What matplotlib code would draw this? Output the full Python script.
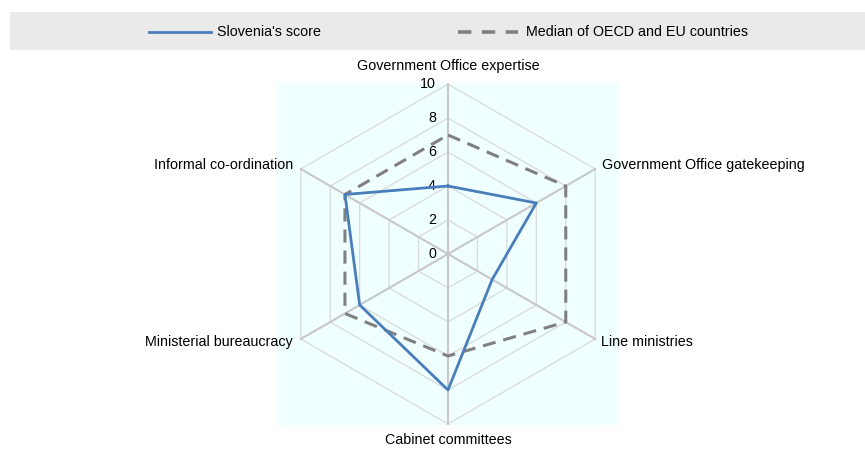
import numpy as np
import matplotlib
matplotlib.use("Agg")
import matplotlib.pyplot as plt
from matplotlib.patches import Rectangle
from matplotlib.lines import Line2D

categories = ["Government Office expertise", "Government Office gatekeeping",
              "Line ministries", "Cabinet committees",
              "Ministerial bureaucracy", "Informal co-ordination"]
slovenia = [4, 6, 3, 8, 6, 7]
median = [7, 8, 8, 6, 7, 7]
ring_values = [0, 2, 4, 6, 8, 10]
ring_labels = ["0", "2", "4", "6", "8", "10"]
series_names = ["Slovenia's score", "Median of OECD and EU countries"]

plt.rcParams['font.family'] = ['Liberation Sans', 'DejaVu Sans']
FS = 10.3

W, H = 865, 450
fig = plt.figure(figsize=(W / 100, H / 100), dpi=100)

# legend band
fig.patches.append(Rectangle((10 / W, 1 - 50 / H), 1 - 10 / W, 38 / H,
                             transform=fig.transFigure, facecolor="#eaeaea",
                             edgecolor="none", zorder=0))

BLUE = "#4a7ebb"
GREY = "#808080"
DASH = (0, (4.3, 2.6))

ax = fig.add_axes([277 / W, 25 / H, 342 / W, 342 / H])
ax.set_facecolor("#f0ffff")
lim = 10.06
ax.set_xlim(-lim, lim)
ax.set_ylim(-lim, lim)
ax.set_aspect("equal")
for s in ax.spines.values():
    s.set_visible(False)
ax.set_xticks([])
ax.set_yticks([])

n = len(categories)
ang = np.deg2rad(90 - 60 * np.arange(n))
ca, sa = np.cos(ang), np.sin(ang)

def closed(vals):
    v = np.asarray(vals, dtype=float)
    x, y = v * ca, v * sa
    return np.append(x, x[0]), np.append(y, y[0])

# rings
for rv in ring_values[1:]:
    x, y = closed([rv] * n)
    ax.plot(x, y, color="#d9d9d9", lw=0.9, zorder=1)
# spokes
top = ring_values[-1]
for i in range(n):
    ax.plot([0, top * ca[i]], [0, top * sa[i]], color="#c8c8c8", lw=1.5, zorder=1.5)

# series
x, y = closed(median)
ax.plot(x, y, color=GREY, lw=2.2, linestyle=DASH, zorder=3)
x, y = closed(slovenia)
ax.plot(x, y, color=BLUE, lw=2.0, zorder=4)

# radial tick labels
for rv, lab in zip(ring_values, ring_labels):
    ax.annotate(lab, xy=(0, rv), xytext=(-12, 0), textcoords="offset pixels",
                ha="right", va="center", fontsize=FS, annotation_clip=False)

# category labels
offsets = [((0, 18), "center"), ((7, 4), "left"), ((6, -3), "left"),
           ((0, -16), "center"), ((-8, -3), "right"), ((-8, 4), "right")]
for i, cat in enumerate(categories):
    (dx, dy), ha = offsets[i]
    ax.annotate(cat, xy=(top * ca[i], top * sa[i]), xytext=(dx, dy),
                textcoords="offset pixels", ha=ha, va="center", fontsize=FS,
                annotation_clip=False)

# legend
ly = 1 - 31.5 / H
fig.lines.append(Line2D([149 / W, 211 / W], [ly, ly], transform=fig.transFigure,
                        color=BLUE, lw=2.0))
fig.text(217 / W, ly, series_names[0], ha="left", va="center", fontsize=FS)
fig.lines.append(Line2D([458 / W, 518 / W], [ly, ly], transform=fig.transFigure,
                        color=GREY, lw=2.6, linestyle=(0, (3.7, 2.9))))
fig.text(526 / W, ly, series_names[1], ha="left", va="center", fontsize=FS)

fig.savefig("out.png", dpi=100)
